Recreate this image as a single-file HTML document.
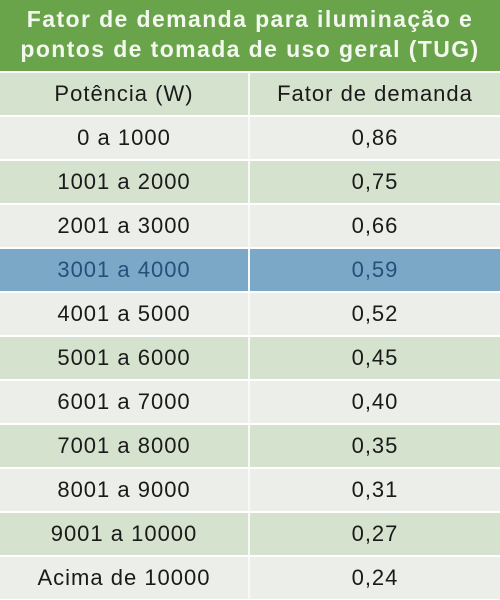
<!DOCTYPE html>
<html><head><meta charset="utf-8"><style>
body{margin:0;width:500px;height:600px;overflow:hidden;background:#fff;font-family:"Liberation Sans",sans-serif}
.title{position:absolute;left:0;top:0;width:500px;height:71px;background:#69a44b;color:#f3f8ee;font-weight:bold;font-size:23px;letter-spacing:1.4px;line-height:30px;text-align:center;padding-top:4px;box-sizing:border-box;white-space:nowrap}
.row{position:absolute;left:0;width:500px;height:42px;display:flex;font-size:22px;letter-spacing:1px;color:#1a1a1a;line-height:42px}
.row div{text-align:center}
.c1{width:248px;border-right:2px solid #f8f8f8}
.c2{flex:1}
.light{background:#eceee9}.green{background:#d5e2ce}.hl{background:#7ca8c8;color:#24507a}
</style></head><body>
<div class="title">Fator de demanda para iluminação e<br>pontos de tomada de uso geral (TUG)</div>
<div id="t"></div>
<script>
const powers=["Potência (W)","0 a 1000","1001 a 2000","2001 a 3000","3001 a 4000","4001 a 5000","5001 a 6000","6001 a 7000","7001 a 8000","8001 a 9000","9001 a 10000","Acima de 10000"];
const factors=["Fator de demanda","0,86","0,75","0,66","0,59","0,52","0,45","0,40","0,35","0,31","0,27","0,24"];
const t=document.getElementById('t');
powers.forEach((p,i)=>{
const r=document.createElement('div');


r.className='row '+(i===4?'hl':(i%2===0?'green':'light'));
r.style.top=(73+i*44)+'px';
const a=document.createElement('div');a.className='c1';a.textContent=p;


const b=document.createElement('div');b.className='c2';b.textContent=factors[i];


r.appendChild(a);r.appendChild(b);t.appendChild(r);
});
</script>
</body></html>
